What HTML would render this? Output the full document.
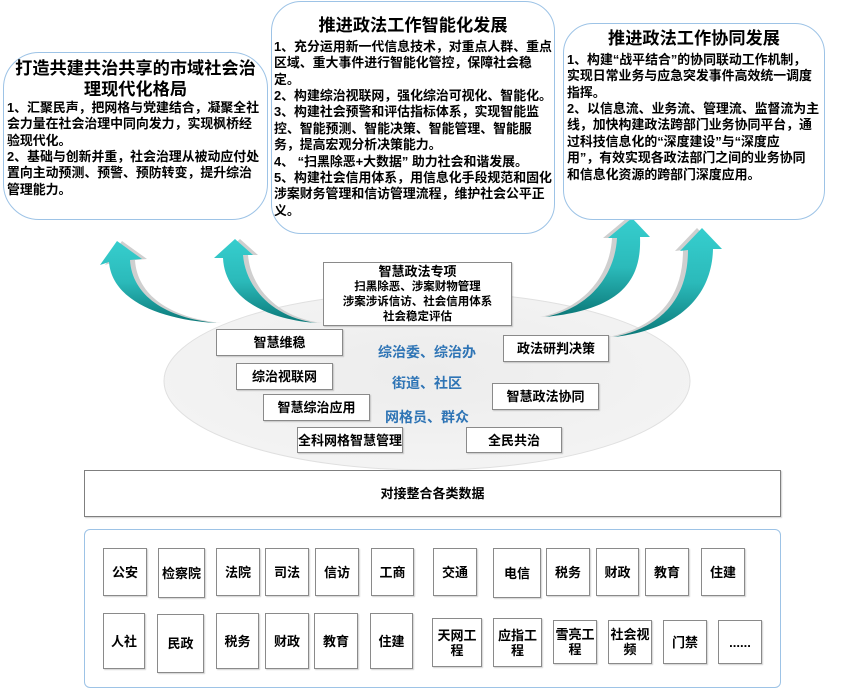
<!DOCTYPE html>
<html><head><meta charset="utf-8">
<style>
html,body{margin:0;padding:0;background:#fff;}
body{width:863px;height:689px;position:relative;overflow:hidden;font-family:"Liberation Sans","Noto Sans CJK SC",sans-serif;font-weight:bold;color:#000;}
.rb{position:absolute;box-sizing:border-box;border:1.5px solid #9dc3e6;background:#fff;}
.tt{position:absolute;font-size:17.2px;line-height:21px;text-align:center;white-space:nowrap;}
.bd{position:absolute;font-size:12.9px;line-height:16.4px;white-space:nowrap;}
.q{font-family:"Noto Sans CJK SC",sans-serif;}
.b{position:absolute;box-sizing:border-box;display:flex;align-items:center;justify-content:center;border:1.5px solid #8a8a8a;background:#fff;font-size:13px;line-height:15px;text-align:center;white-space:nowrap;box-shadow:1px 1px 1px rgba(0,0,0,0.18);}
.bl{position:absolute;color:#2e74b5;font-size:14px;line-height:16px;white-space:nowrap;}
svg{position:absolute;left:0;top:0;}
</style></head><body>

<svg width="863" height="689" viewBox="0 0 863 689">
  <defs>
    <radialGradient id="eg" cx="0.5" cy="0.45" r="0.6">
      <stop offset="0" stop-color="#ececec"/>
      <stop offset="1" stop-color="#f4f4f4"/>
    </radialGradient>
    <linearGradient id="ag" x1="0" y1="0" x2="0" y2="1">
      <stop offset="0" stop-color="#36cece"/>
      <stop offset="0.5" stop-color="#2bbaba"/>
      <stop offset="1" stop-color="#0b7878"/>
    </linearGradient>
  </defs>
  <ellipse cx="427" cy="381" rx="263" ry="89" fill="url(#eg)" stroke="#e0e0e0" stroke-width="1"/>
  <g fill="#cfcfcf">
    <path transform="translate(5,0)" d="M117,241 L142,259 L130,260 C132,295 165,318 217,323 C160,320 112,300 109,262 L100,265 Z"/>
    <path transform="translate(5,0)" d="M235,239 L253,255 L243,255 C246,290 275,318 317,323 C270,320 225,300 223,258 L214,258 Z"/>
    <path transform="translate(-5,0)" d="M632,218 L650,237 L640,237 C642,285 615,310 545,317 C590,308 615,275 617,238 L608,238 Z"/>
    <path transform="translate(-5,0)" d="M702,228 L722,249 L713,249 C712,295 680,330 613,337 C660,328 688,300 688,250 L680,251 Z"/>
  </g>
  <g fill="url(#ag)">
    <path d="M117,241 L142,259 L130,260 C132,295 165,318 217,323 C160,320 112,300 109,262 L100,265 Z"/>
    <path d="M235,239 L253,255 L243,255 C246,290 275,318 317,323 C270,320 225,300 223,258 L214,258 Z"/>
    <path d="M632,218 L650,237 L640,237 C642,285 615,310 545,317 C590,308 615,275 617,238 L608,238 Z"/>
    <path d="M702,228 L722,249 L713,249 C712,295 680,330 613,337 C660,328 688,300 688,250 L680,251 Z"/>
  </g>
</svg>

<div class="rb" style="left:3px;top:52px;width:265px;height:168px;border-radius:36px;"></div>
<div class="tt" style="left:3px;top:57.5px;width:265px;">打造共建共治共享的市域社会治<br>理现代化格局</div>
<div class="bd" style="left:7px;top:99.8px;">1、汇聚民声，把网格与党建结合，凝聚全社<br>会力量在社会治理中同向发力，实现枫桥经<br>验现代化。<br>2、基础与创新并重，社会治理从被动应付处<br>置向主动预测、预警、预防转变，提升综治<br>管理能力。</div>

<div class="rb" style="left:271px;top:1px;width:284px;height:233px;border-radius:30px;"></div>
<div class="tt" style="left:271px;top:14.5px;width:284px;">推进政法工作智能化发展</div>
<div class="bd" style="left:274px;top:38.8px;">1、充分运用新一代信息技术，对重点人群、重点<br>区域、重大事件进行智能化管控，保障社会稳<br>定。<br>2、构建综治视联网，强化综治可视化、智能化。<br>3、构建社会预警和评估指标体系，实现智能监<br>控、智能预测、智能决策、智能管理、智能服<br>务，提高宏观分析决策能力。<br>4、 “扫黑除恶+大数据” 助力社会和谐发展。<br>5、构建社会信用体系，用信息化手段规范和固化<br>涉案财务管理和信访管理流程，维护社会公平正<br>义。</div>

<div class="rb" style="left:563px;top:23px;width:262px;height:197px;border-radius:30px;"></div>
<div class="tt" style="left:563px;top:27.5px;width:262px;">推进政法工作协同发展</div>
<div class="bd" style="left:567px;top:51.8px;">1、构建“战平结合”的协同联动工作机制，<br>实现日常业务与应急突发事件高效统一调度<br>指挥。<br>2、以信息流、业务流、管理流、监督流为主<br>线，加快构建政法跨部门业务协同平台，通<br>过科技信息化的“深度建设”与“深度应<br>用”，有效实现各政法部门之间的业务协同<br>和信息化资源的跨部门深度应用。</div>

<div class="b" style="left:323px;top:262px;width:189px;height:64px;flex-direction:column;font-size:11.5px;line-height:15px;"><span style="font-size:13px;line-height:16px;">智慧政法专项</span>扫黑除恶、涉案财物管理<br>涉案涉诉信访、社会信用体系<br>社会稳定评估</div>
<div class="b" style="left:216px;top:329px;width:127px;height:27px;">智慧维稳</div>
<div class="b" style="left:236px;top:363px;width:97px;height:27px;">综治视联网</div>
<div class="b" style="left:263px;top:394px;width:107px;height:27px;">智慧综治应用</div>
<div class="b" style="left:297px;top:427px;width:106px;height:26px;">全科网格智慧管理</div>
<div class="b" style="left:503px;top:335px;width:106px;height:27px;">政法研判决策</div>
<div class="b" style="left:492px;top:383px;width:107px;height:27px;">智慧政法协同</div>
<div class="b" style="left:466px;top:427px;width:96px;height:26px;">全民共治</div>

<div class="bl" style="left:378px;top:344px;">综治委、综治办</div>
<div class="bl" style="left:392px;top:375px;">街道、社区</div>
<div class="bl" style="left:385px;top:409px;">网格员、群众</div>

<div class="b" style="left:84px;top:470px;width:697px;height:47px;border-color:#7f7f7f;">对接整合各类数据</div>

<div class="rb" style="left:84px;top:529px;width:697px;height:159px;border-radius:6px;"></div>

<div class="b" style="left:103px;top:548px;width:44px;height:48px;">公安</div>
<div class="b" style="left:158px;top:548px;width:47px;height:50px;">检察院</div>
<div class="b" style="left:216px;top:548px;width:44px;height:48px;">法院</div>
<div class="b" style="left:265px;top:548px;width:44px;height:48px;">司法</div>
<div class="b" style="left:315px;top:548px;width:44px;height:48px;">信访</div>
<div class="b" style="left:371px;top:548px;width:43px;height:48px;">工商</div>
<div class="b" style="left:433px;top:548px;width:44px;height:48px;">交通</div>
<div class="b" style="left:493px;top:548px;width:48px;height:50px;">电信</div>
<div class="b" style="left:546px;top:548px;width:44px;height:48px;">税务</div>
<div class="b" style="left:596px;top:548px;width:43px;height:48px;">财政</div>
<div class="b" style="left:645px;top:548px;width:44px;height:48px;">教育</div>
<div class="b" style="left:701px;top:548px;width:44px;height:48px;">住建</div>

<div class="b" style="left:103px;top:613px;width:42px;height:56px;">人社</div>
<div class="b" style="left:157px;top:614px;width:47px;height:59px;">民政</div>
<div class="b" style="left:216px;top:613px;width:43px;height:56px;">税务</div>
<div class="b" style="left:265px;top:613px;width:44px;height:56px;">财政</div>
<div class="b" style="left:314px;top:613px;width:44px;height:56px;">教育</div>
<div class="b" style="left:370px;top:613px;width:43px;height:56px;">住建</div>
<div class="b" style="left:432px;top:618px;width:50px;height:49px;">天网工<br>程</div>
<div class="b" style="left:493px;top:618px;width:49px;height:49px;">应指工<br>程</div>
<div class="b" style="left:553px;top:620px;width:44px;height:44px;">雪亮工<br>程</div>
<div class="b" style="left:608px;top:620px;width:44px;height:44px;">社会视<br>频</div>
<div class="b" style="left:663px;top:620px;width:44px;height:44px;">门禁</div>
<div class="b" style="left:718px;top:620px;width:44px;height:44px;">......</div>

</body></html>
